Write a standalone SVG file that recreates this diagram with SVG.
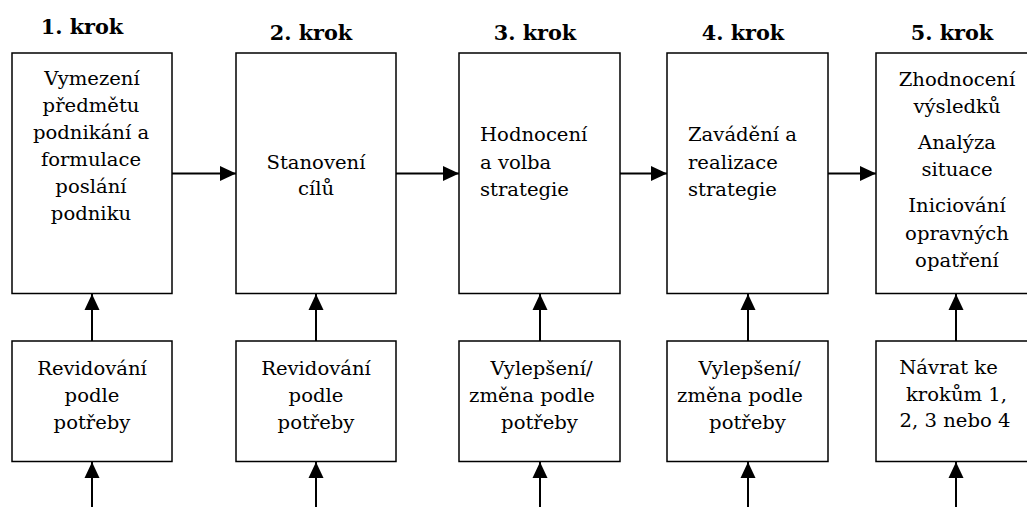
<svg xmlns="http://www.w3.org/2000/svg" width="1027" height="507" viewBox="0 0 1027 507">
  <style>
    .box { fill: #ffffff; stroke: #000000; stroke-width: 1.5; }
    .conn { stroke: #000000; stroke-width: 2; fill: none; marker-end: url(#arrow); }
    text { font-family: 'DejaVu Serif', serif; fill: #000000; }
    .t text { font-size: 18px; }
    .c text { text-anchor: middle; }
    .title { font-size: 20px; font-weight: bold; text-anchor: middle; }
  </style>
  <defs>
    <marker id="arrow" markerUnits="userSpaceOnUse" markerWidth="16" markerHeight="15" refX="16" refY="7.5" orient="auto" overflow="visible">
      <path d="M0,0 L16,7.5 L0,15 Z" fill="#000000"/>
    </marker>
  </defs>
  <rect width="1027" height="507" fill="#ffffff"/>

  <!-- step headings -->
  <g id="headings">
    <text class="title" transform="translate(82 33.5) scale(1.04 1)">1. krok</text>
    <text class="title" transform="translate(311 40) scale(1.04 1)">2. krok</text>
    <text class="title" transform="translate(535 40) scale(1.04 1)">3. krok</text>
    <text class="title" transform="translate(743 40) scale(1.04 1)">4. krok</text>
    <text class="title" transform="translate(952 40) scale(1.04 1)">5. krok</text>
  </g>

  <!-- connectors -->
  <g id="connectors">
    <line class="conn" x1="172" y1="173.5" x2="236" y2="173.5"/>
    <line class="conn" x1="396" y1="173.5" x2="459" y2="173.5"/>
    <line class="conn" x1="620" y1="173.5" x2="667" y2="173.5"/>
    <line class="conn" x1="828" y1="173.5" x2="876" y2="173.5"/>

    <line class="conn" x1="92" y1="341" x2="92" y2="294"/>
    <line class="conn" x1="316" y1="341" x2="316" y2="294"/>
    <line class="conn" x1="540" y1="341" x2="540" y2="294"/>
    <line class="conn" x1="748" y1="341" x2="748" y2="294"/>
    <line class="conn" x1="956" y1="341" x2="956" y2="294"/>

    <line class="conn" x1="92" y1="507" x2="92" y2="462"/>
    <line class="conn" x1="316" y1="507" x2="316" y2="462"/>
    <line class="conn" x1="540" y1="507" x2="540" y2="462"/>
    <line class="conn" x1="748" y1="507" x2="748" y2="462"/>
    <line class="conn" x1="956" y1="507" x2="956" y2="462"/>
  </g>

  <!-- step boxes -->
  <g id="step1">
    <rect class="box" x="12" y="53" width="160" height="240.5"/>
    <g class="t c">
      <text transform="translate(92 85) scale(1.09 1)">Vymezení</text>
      <text transform="translate(91 112) scale(1.09 1)">předmětu</text>
      <text transform="translate(91 139) scale(1.09 1)">podnikání a</text>
      <text transform="translate(91 166) scale(1.09 1)">formulace</text>
      <text transform="translate(91 193) scale(1.09 1)">poslání</text>
      <text transform="translate(91 220) scale(1.09 1)">podniku</text>
    </g>
  </g>
  <g id="step2">
    <rect class="box" x="236" y="53" width="160" height="240.5"/>
    <g class="t c">
      <text transform="translate(316 168.5) scale(1.09 1)">Stanovení</text>
      <text transform="translate(316 195) scale(1.09 1)">cílů</text>
    </g>
  </g>
  <g id="step3">
    <rect class="box" x="459" y="53" width="161" height="240.5"/>
    <g class="t">
      <text transform="translate(480 141) scale(1.09 1)">Hodnocení</text>
      <text transform="translate(480 168.5) scale(1.09 1)">a volba</text>
      <text transform="translate(480 196) scale(1.09 1)">strategie</text>
    </g>
  </g>
  <g id="step4">
    <rect class="box" x="667" y="53" width="161" height="240.5"/>
    <g class="t">
      <text transform="translate(688 141) scale(1.09 1)">Zavádění a</text>
      <text transform="translate(688 168.5) scale(1.09 1)">realizace</text>
      <text transform="translate(688 196) scale(1.09 1)">strategie</text>
    </g>
  </g>
  <g id="step5">
    <rect class="box" x="876" y="53" width="160" height="240.5"/>
    <g class="t c">
      <text transform="translate(957 86) scale(1.09 1)">Zhodnocení</text>
      <text transform="translate(957 113) scale(1.09 1)">výsledků</text>
      <text transform="translate(957 148.5) scale(1.09 1)">Analýza</text>
      <text transform="translate(957 176) scale(1.09 1)">situace</text>
      <text transform="translate(957 212) scale(1.09 1)">Iniciování</text>
      <text transform="translate(957 239.5) scale(1.09 1)">opravných</text>
      <text transform="translate(957 267) scale(1.09 1)">opatření</text>
    </g>
  </g>

  <!-- revision boxes -->
  <g id="revise1">
    <rect class="box" x="12" y="341" width="160" height="120.5"/>
    <g class="t c">
      <text transform="translate(92 374.5) scale(1.09 1)">Revidování</text>
      <text transform="translate(92 401.5) scale(1.09 1)">podle</text>
      <text transform="translate(92 428.5) scale(1.09 1)">potřeby</text>
    </g>
  </g>
  <g id="revise2">
    <rect class="box" x="236" y="341" width="160" height="120.5"/>
    <g class="t c">
      <text transform="translate(316 374.5) scale(1.09 1)">Revidování</text>
      <text transform="translate(316 401.5) scale(1.09 1)">podle</text>
      <text transform="translate(316 428.5) scale(1.09 1)">potřeby</text>
    </g>
  </g>
  <g id="revise3">
    <rect class="box" x="459" y="341" width="161" height="120.5"/>
    <g class="t c">
      <text transform="translate(541.5 375) scale(1.09 1)">Vylepšení/</text>
      <text transform="translate(532 402) scale(1.09 1)">změna podle</text>
      <text transform="translate(539.5 429) scale(1.09 1)">potřeby</text>
    </g>
  </g>
  <g id="revise4">
    <rect class="box" x="667" y="341" width="161" height="120.5"/>
    <g class="t c">
      <text transform="translate(749.5 375) scale(1.09 1)">Vylepšení/</text>
      <text transform="translate(740 402) scale(1.09 1)">změna podle</text>
      <text transform="translate(747.5 429) scale(1.09 1)">potřeby</text>
    </g>
  </g>
  <g id="revise5">
    <rect class="box" x="876" y="341" width="160" height="120.5"/>
    <g class="t c">
      <text transform="translate(948.5 373.5) scale(1.09 1)">Návrat ke</text>
      <text transform="translate(956.5 400.5) scale(1.09 1)">krokům 1,</text>
      <text transform="translate(955 427) scale(1.09 1)">2, 3 nebo 4</text>
    </g>
  </g>
</svg>
